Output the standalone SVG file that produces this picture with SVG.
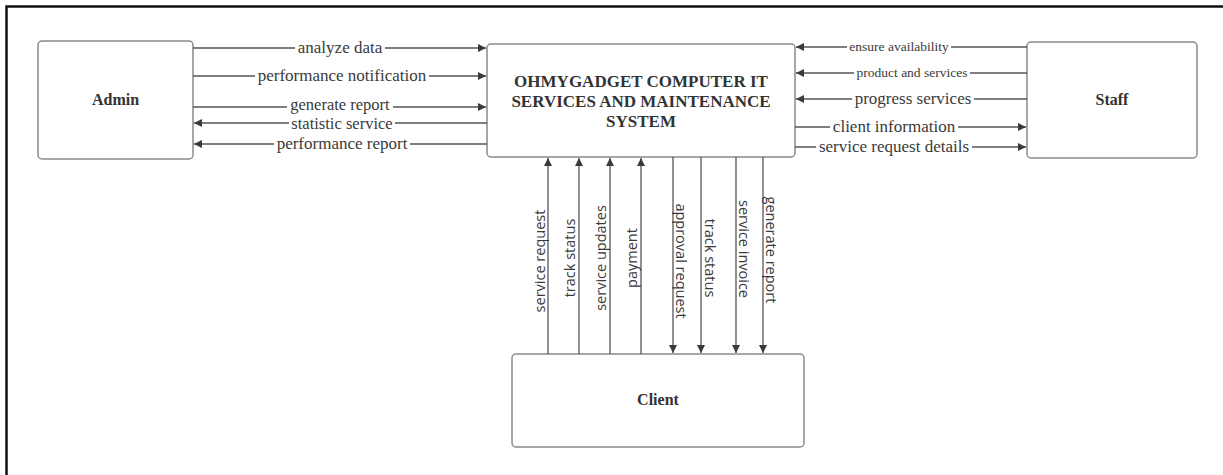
<svg xmlns="http://www.w3.org/2000/svg" width="1223" height="475" viewBox="0 0 1223 475">
<defs>
<marker id="ah" viewBox="0 0 10 10" refX="10" refY="5" markerWidth="10" markerHeight="8" markerUnits="userSpaceOnUse" orient="auto">
<path d="M0,0 L10,5 L0,10 z" fill="#3a3a3a"/>
</marker>
<style>
.box{fill:#fff;stroke:#8a8a8a;stroke-width:1.5}
.ttl{font-family:"Liberation Serif",serif;font-weight:bold;fill:#333;text-anchor:middle}
.ln{stroke:#555;stroke-width:1.3;fill:none;marker-end:url(#ah)}
.gap{fill:#fff}
.lb{font-family:"Liberation Serif",serif;fill:#3a3a3a;text-anchor:middle}
.vl{font-family:"Open Sans",sans-serif;fill:#3a3a3a;text-anchor:middle;font-size:14.5px}
</style>
</defs>
<rect width="1223" height="475" fill="#fff"/>
<path d="M6.5,475 V6.5 H1223" fill="none" stroke="#111" stroke-width="2.5"/>

<g id="admin">
<rect class="box" x="38" y="41" width="155" height="118" rx="4"/>
<text class="ttl" x="115.5" y="105" font-size="16">Admin</text>
</g>
<g id="system">
<rect class="box" x="487" y="44" width="308" height="113" rx="4"/>
<text class="ttl" x="641" y="87" font-size="17">OHMYGADGET COMPUTER IT</text>
<text class="ttl" x="641" y="107" font-size="17">SERVICES AND MAINTENANCE</text>
<text class="ttl" x="641" y="127" font-size="17">SYSTEM</text>
</g>
<g id="staff">
<rect class="box" x="1027" y="42" width="170" height="116" rx="4"/>
<text class="ttl" x="1112" y="105" font-size="16">Staff</text>
</g>
<g id="client">
<rect class="box" x="512" y="354" width="292" height="93" rx="4"/>
<text class="ttl" x="658" y="405" font-size="16">Client</text>
</g>

<g id="connectors">
<line class="ln" x1="193" y1="48" x2="486" y2="48"/>
<line class="ln" x1="193" y1="76" x2="486" y2="76"/>
<line class="ln" x1="193" y1="107" x2="486" y2="107"/>
<line class="ln" x1="487" y1="123" x2="194" y2="123"/>
<line class="ln" x1="487" y1="144" x2="194" y2="144"/>
<rect class="gap" x="295" y="45" width="90" height="6"/>
<rect class="gap" x="255" y="73" width="174" height="6"/>
<rect class="gap" x="287" y="104" width="106" height="6"/>
<rect class="gap" x="289" y="120" width="106" height="6"/>
<rect class="gap" x="274" y="141" width="136" height="6"/>
<text class="lb" x="340" y="53" font-size="17">analyze data</text>
<text class="lb" x="342" y="81" font-size="17">performance notification</text>
<text class="lb" x="340" y="110" font-size="16.5">generate report</text>
<text class="lb" x="342" y="128.5" font-size="16.5">statistic service</text>
<text class="lb" x="342" y="149" font-size="17">performance report</text>

<line class="ln" x1="1027" y1="47" x2="796" y2="47"/>
<line class="ln" x1="1027" y1="73" x2="796" y2="73"/>
<line class="ln" x1="1027" y1="99" x2="796" y2="99"/>
<line class="ln" x1="795" y1="127" x2="1026" y2="127"/>
<line class="ln" x1="795" y1="147" x2="1026" y2="147"/>
<rect class="gap" x="847" y="44" width="104" height="6"/>
<rect class="gap" x="854" y="70" width="116" height="6"/>
<rect class="gap" x="852" y="96" width="122" height="6"/>
<rect class="gap" x="830" y="124" width="128" height="6"/>
<rect class="gap" x="816" y="144" width="156" height="6"/>
<text class="lb" x="899" y="51" font-size="13.5">ensure availability</text>
<text class="lb" x="912" y="77" font-size="13.5">product and services</text>
<text class="lb" x="913" y="104" font-size="17">progress services</text>
<text class="lb" x="894" y="132" font-size="17">client information</text>
<text class="lb" x="894" y="152" font-size="17">service request details</text>

<line class="ln" x1="548" y1="354" x2="548" y2="158"/>
<line class="ln" x1="579" y1="354" x2="579" y2="158"/>
<line class="ln" x1="610" y1="354" x2="610" y2="158"/>
<line class="ln" x1="641" y1="354" x2="641" y2="158"/>
<line class="ln" x1="673" y1="157" x2="673" y2="353"/>
<line class="ln" x1="701" y1="157" x2="701" y2="353"/>
<line class="ln" x1="736" y1="157" x2="736" y2="353"/>
<line class="ln" x1="763" y1="157" x2="763" y2="353"/>

<text class="vl" transform="translate(545,261) rotate(-90)">service request</text>
<text class="vl" transform="translate(575,258) rotate(-90)">track status</text>
<text class="vl" transform="translate(606,258) rotate(-90)">service updates</text>
<text class="vl" transform="translate(637,258) rotate(-90)">payment</text>
<text class="vl" transform="translate(676,261) rotate(90)">approval request</text>
<text class="vl" transform="translate(705,258) rotate(90)">track status</text>
<text class="vl" transform="translate(739,249) rotate(90)">service invoice</text>
<text class="vl" transform="translate(766,250) rotate(90)">generate report</text>
</g>
</svg>
